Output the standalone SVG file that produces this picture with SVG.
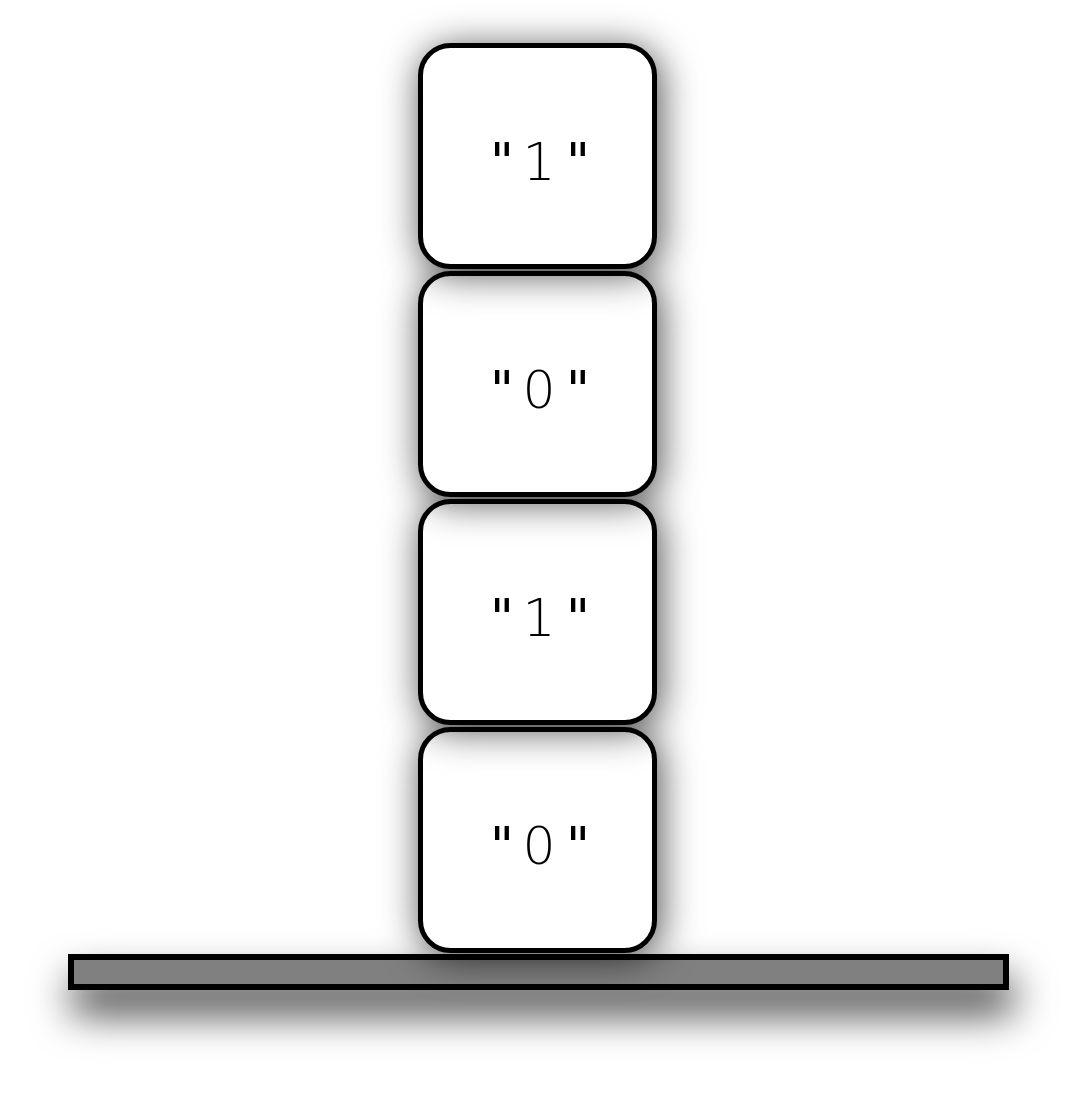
<svg xmlns="http://www.w3.org/2000/svg" width="1077" height="1094" viewBox="0 0 1077 1094">
<style>
.box{fill:#fff;stroke:#000;stroke-width:5}
.lbl{fill:#000;text-anchor:middle;font-size:52px}
.q{font-family:"DejaVu Sans","Liberation Sans",sans-serif;font-weight:400}
.d{font-family:"DejaVu Sans","Liberation Sans",sans-serif;font-weight:200}
.bar{fill:#808080;stroke:#000;stroke-width:6}
</style>
<defs>
<filter id="sh" x="-50%" y="-50%" width="200%" height="200%">
<feDropShadow dx="3" dy="5" stdDeviation="19" flood-color="#000" flood-opacity="0.7"/>
</filter>
<filter id="shbar" x="-10%" y="-200%" width="120%" height="700%">
<feDropShadow dx="4" dy="24" stdDeviation="20" flood-color="#000" flood-opacity="0.75"/>
</filter>
</defs>
<rect width="1077" height="1094" fill="#fff"/>
<g id="ground"><rect class="bar" x="71" y="957" width="935" height="30" filter="url(#shbar)"/></g>
<g id="block4"><rect class="box" x="420.5" y="729.5" width="234" height="221" rx="30" filter="url(#sh)"/><text class="lbl" y="864"><tspan class="q" x="502">"</tspan><tspan class="d" x="539">0</tspan><tspan class="q" x="578">"</tspan></text></g>
<g id="block3"><rect class="box" x="420.5" y="501.5" width="234" height="221" rx="30" filter="url(#sh)"/><text class="lbl" y="636"><tspan class="q" x="502">"</tspan><tspan class="d" x="539">1</tspan><tspan class="q" x="578">"</tspan></text></g>
<g id="block2"><rect class="box" x="420.5" y="273.5" width="234" height="221" rx="30" filter="url(#sh)"/><text class="lbl" y="408"><tspan class="q" x="502">"</tspan><tspan class="d" x="539">0</tspan><tspan class="q" x="578">"</tspan></text></g>
<g id="block1"><rect class="box" x="420.5" y="45.5" width="234" height="221" rx="30" filter="url(#sh)"/><text class="lbl" y="180"><tspan class="q" x="502">"</tspan><tspan class="d" x="539">1</tspan><tspan class="q" x="578">"</tspan></text></g>
<g id="connectors"/>
</svg>
